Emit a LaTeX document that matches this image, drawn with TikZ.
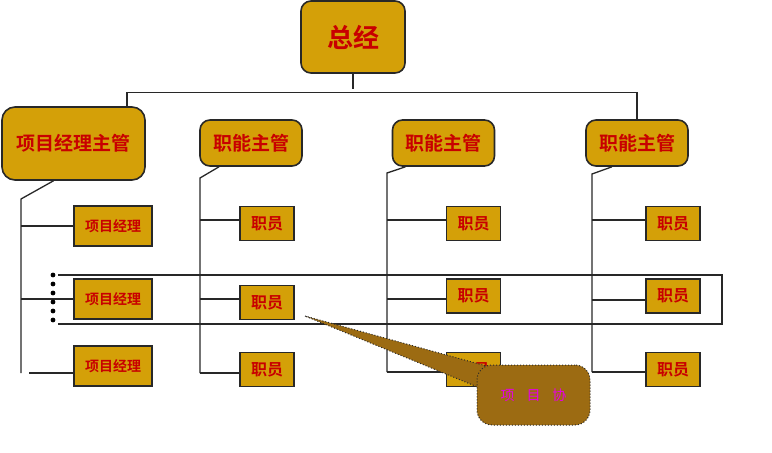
\documentclass[tikz,border=0pt]{standalone}
\usepackage{fontspec}
\newfontfamily\cjk{Noto Sans CJK SC Bold}
\newfontfamily\cjkreg{Noto Sans CJK SC}
\definecolor{gold}{RGB}{212,160,8}
\definecolor{txtred}{RGB}{200,0,0}
\definecolor{callbrown}{RGB}{156,107,18}
\definecolor{linegray}{RGB}{40,40,40}
\definecolor{calltext}{RGB}{230,0,230}
\begin{document}
\begin{tikzpicture}[x=1pt,y=-1pt,
  box/.style={draw=linegray,line width=1.6pt,fill=gold,text=txtred,font=\cjk,inner sep=0pt},
  rbox/.style={box,rounded corners=10pt},
  conn/.style={draw=linegray,line width=1.3pt},
  dotline/.style={draw=linegray,line width=1pt,dotted}]
\useasboundingbox (0,0) rectangle (772,453);
% top
\node[rbox,minimum width=104pt,minimum height=72pt,font=\cjk\fontsize{26}{26}\selectfont] (zj) at (353,37) {总经};
% managers
\node[rbox,rounded corners=13pt,minimum width=143pt,minimum height=73pt,font=\cjk\fontsize{19}{19}\selectfont] (xm) at (73.5,143.5) {项目经理主管};
\node[rbox,minimum width=102pt,minimum height=46pt,font=\cjk\fontsize{19}{19}\selectfont] (zn1) at (251,143) {职能主管};
\node[rbox,minimum width=102pt,minimum height=46pt,font=\cjk\fontsize{19}{19}\selectfont] (zn2) at (443.5,143) {职能主管};
\node[rbox,minimum width=102pt,minimum height=46pt,font=\cjk\fontsize{19}{19}\selectfont] (zn3) at (637,143) {职能主管};
% top connectors
\draw[conn] (zj.south) -- ++(0,15);
\draw[conn] ([xshift=53.5pt]xm.north) -- ++(0,-14) -| (zn3.north);
% project managers
\tikzset{pmbox/.style={box,minimum width=78pt,minimum height=40pt,font=\cjk\fontsize{14}{14}\selectfont},
  stbox/.style={box,minimum width=54pt,minimum height=34pt,font=\cjk\fontsize{16}{16}\selectfont}}
\node[pmbox] (pm1) at (113,226) {项目经理};
\node[pmbox] (pm2) at (113,299) {项目经理};
\node[pmbox] (pm3) at (113,366) {项目经理};
% staff col 2
\node[stbox] (a1) at (267,223.5) {职员};
\node[stbox] (a2) at (267,302.5) {职员};
\node[stbox] (a3) at (267,369.5) {职员};
% staff col 3
\node[stbox] (b1) at (473.5,223.5) {职员};
\node[stbox] (b2) at (473.5,296) {职员};
\node[stbox] (b3) at (473.5,369.5) {职员};
% staff col 4
\node[stbox] (c1) at (673,223.5) {职员};
\node[stbox] (c2) at (673,296) {职员};
\node[stbox] (c3) at (673,369.5) {职员};
% column 1 trunk
\coordinate (t1) at (21,199);
\coordinate (t1b) at (21,373);
\draw[conn] ([xshift=-20pt]xm.south) -- (t1) -- (t1b);
\coordinate (h11) at (21,226); \coordinate (h12) at (21,299); \coordinate (h13) at (29,373);
\draw[conn] (h11) -- (h11 -| pm1.west);
\draw[conn] (h12) -- (h12 -| pm2.west);
\draw[conn] (h13) -- (h13 -| pm3.west);
% column 2 trunk
\coordinate (t2) at (200,178);
\draw[conn] ([xshift=-32pt]zn1.south) -- (t2) -- (200,373) coordinate (t2b);
\coordinate (h21) at (200,220); \coordinate (h22) at (200,299);
\draw[conn] (h21) -- (h21 -| a1.west);
\draw[conn] (h22) -- (h22 -| a2.west);
\draw[conn] (t2b) -- (t2b -| a3.west);
% column 3 trunk
\coordinate (t3) at (387,173);
\draw[conn] ([xshift=-38pt]zn2.south) -- (t3) -- (387,372) coordinate (t3b);
\coordinate (h31) at (387,220); \coordinate (h32) at (387,299);
\draw[conn] (h31) -- (h31 -| b1.west);
\draw[conn] (h32) -- (h32 -| b2.west);
\draw[conn] (t3b) -- (t3b -| b3.west);
% column 4 trunk
\coordinate (t4) at (592,174);
\draw[conn] ([xshift=-25pt]zn3.south) -- (t4) -- (592,372) coordinate (t4b);
\coordinate (h41) at (592,220); \coordinate (h42) at (592,300);
\draw[conn] (h41) -- (h41 -| c1.west);
\draw[conn] (h42) -- (h42 -| c2.west);
\draw[conn] (t4b) -- (t4b -| c3.west);
% project band
\coordinate (bl1) at (58,275); \coordinate (br1) at (722,275);
\coordinate (bl2) at (58,324); \coordinate (br2) at (722,324);
\draw[conn] (bl1) -- (br1) -- (br2) -- (bl2);
\foreach \yy in {275,284,293,302,311,320} \fill (53,\yy) circle (2.4pt);
% callout
\coordinate (tip) at (305,316);
\filldraw[fill=callbrown,dotline] (tip) -- (490,367) -- (480,388) -- cycle;
\node[draw=linegray,line width=1pt,dotted,fill=callbrown,rounded corners=15pt,minimum width=113pt,minimum height=60pt,
  text=calltext,font=\cjkreg\fontsize{14}{14}\selectfont] (call) at (533.5,395) {\raisebox{-7pt}{项\hspace{12pt}目\hspace{12pt}协}};
\end{tikzpicture}
\end{document}
